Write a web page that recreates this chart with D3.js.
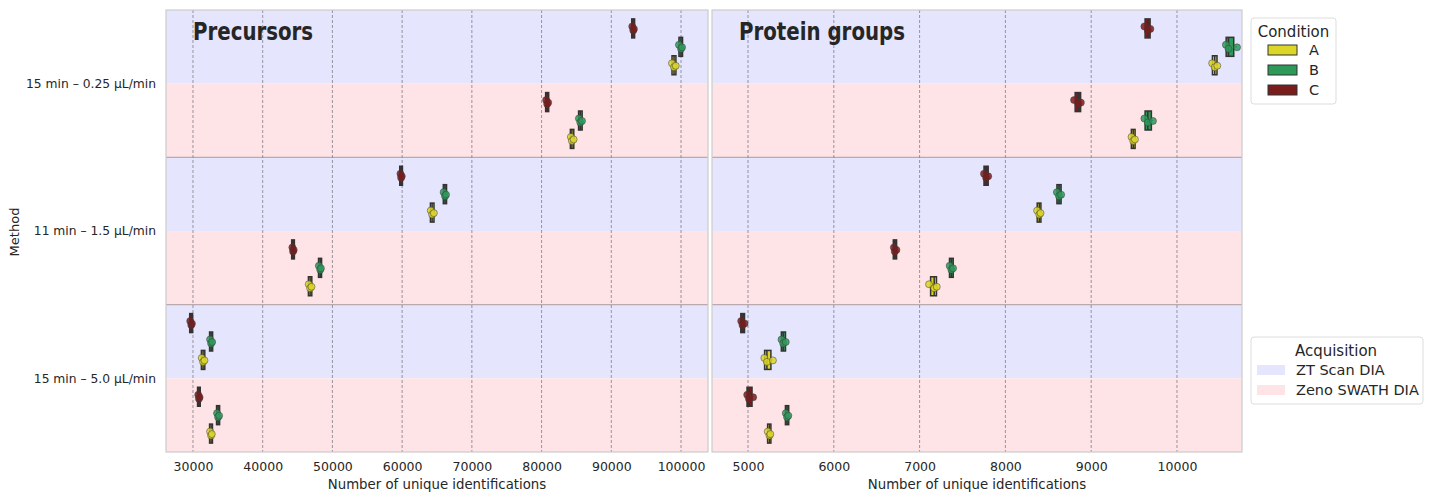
<!DOCTYPE html>
<html>
<head>
<meta charset="utf-8">
<script src="https://cdn.jsdelivr.net/npm/d3@7"></script>
<style>
  body { margin: 0; background: #fff; }
  text { font-family: "DejaVu Sans", sans-serif; fill: #262626; }
</style>
</head>
<body>
<svg width="1429" height="496"></svg>
<script>
'use strict';
// categories
const methods = ['15 min – 0.25 µL/min', '11 min – 1.5 µL/min', '15 min – 5.0 µL/min'];
const acquisitions = ['ZT Scan DIA', 'Zeno SWATH DIA'];
const conditions = ['A', 'B', 'C'];
const rowOrder = ['C', 'B', 'A'];

// replicate values, one triplet per method (same order as methods)
const precZtA = [[98700, 99000, 99250], [64100, 64300, 64550], [31250, 31450, 31650]];
const precZtB = [[99700, 100000, 100150], [65950, 66150, 66300], [32450, 32600, 32750]];
const precZtC = [[93000, 93150, 93250], [59750, 59850, 59950], [29600, 29750, 29850]];
const precZenoA = [[84200, 84350, 84600], [46600, 46800, 47000], [32450, 32600, 32700]];
const precZenoB = [[85350, 85550, 85800], [48050, 48250, 48350], [33450, 33600, 33750]];
const precZenoC = [[80650, 80800, 80950], [44250, 44350, 44450], [30750, 30850, 30950]];

const protZtA = [[10410, 10440, 10470], [8370, 8395, 8410], [5190, 5220, 5290]];
const protZtB = [[10570, 10600, 10700], [8600, 8625, 8650], [5390, 5410, 5440]];
const protZtC = [[9620, 9660, 9690], [7750, 7775, 7800], [4920, 4935, 4960]];
const protZenoA = [[9470, 9490, 9510], [7110, 7170, 7200], [5230, 5250, 5260]];
const protZenoB = [[9620, 9660, 9720], [7350, 7370, 7390], [5440, 5455, 5470]];
const protZenoC = [[8800, 8850, 8880], [6700, 6710, 6730], [4990, 5010, 5060]];

const precTicks = [30000, 40000, 50000, 60000, 70000, 80000, 90000, 100000];
const protTicks = [5000, 6000, 7000, 8000, 9000, 10000];

const colors = { A: '#dcd628', B: '#2e9a5a', C: '#7a1c1c' };
const bgColors = { 'ZT Scan DIA': '#e5e5fd', 'Zeno SWATH DIA': '#fee4e6' };

const svg = d3.select('svg');
const plotTop = 10, plotBottom = 452;

// y scales: method band -> acquisition half -> condition row
const yMethod = d3.scaleBand().domain(methods).range([plotTop, plotBottom]);
const yAcq = d3.scaleBand().domain(acquisitions).range([0, yMethod.bandwidth()]);
const yCond = d3.scalePoint().domain(rowOrder).range([0, yAcq.bandwidth()]).padding(1);

function rows(zt, zeno) {
  const out = [];
  methods.forEach((m, i) => {
    conditions.forEach(c => {
      out.push({ method: m, acq: acquisitions[0], cond: c, values: zt[c][i] });
      out.push({ method: m, acq: acquisitions[1], cond: c, values: zeno[c][i] });
    });
  });
  return out;
}

const panels = [
  {
    title: 'Precursors', x0: 166, x1: 708,
    domain: [26130, 103870], ticks: precTicks,
    data: rows({ A: precZtA, B: precZtB, C: precZtC }, { A: precZenoA, B: precZenoB, C: precZenoC })
  },
  {
    title: 'Protein groups', x0: 712, x1: 1242,
    domain: [4580, 10758], ticks: protTicks,
    data: rows({ A: protZtA, B: protZtB, C: protZtC }, { A: protZenoA, B: protZenoB, C: protZenoC })
  }
];

const jitter = [-2, 2, 0.5];
const boxH = 19;

panels.forEach(p => {
  const x = d3.scaleLinear().domain(p.domain).range([p.x0, p.x1]);
  const g = svg.append('g');

  // background halves
  methods.forEach(m => {
    acquisitions.forEach(a => {
      g.append('rect')
        .attr('x', p.x0).attr('width', p.x1 - p.x0)
        .attr('y', yMethod(m) + yAcq(a)).attr('height', yAcq.bandwidth())
        .attr('fill', bgColors[a]);
    });
  });

  // method separators
  methods.slice(1).forEach(m => {
    g.append('line')
      .attr('x1', p.x0).attr('x2', p.x1)
      .attr('y1', yMethod(m)).attr('y2', yMethod(m))
      .attr('stroke', '#bba9ad').attr('stroke-width', 1.2);
  });

  // grid
  g.selectAll('.grid').data(p.ticks).join('line')
    .attr('x1', d => x(d)).attr('x2', d => x(d))
    .attr('y1', plotTop).attr('y2', plotBottom)
    .attr('stroke', '#7d7d8a').attr('stroke-width', 0.8)
    .attr('stroke-dasharray', '3,2');

  // frame
  g.append('rect')
    .attr('x', p.x0).attr('y', plotTop)
    .attr('width', p.x1 - p.x0).attr('height', plotBottom - plotTop)
    .attr('fill', 'none').attr('stroke', '#cccccc').attr('stroke-width', 1.2);

  // x axis labels
  const axis = d3.axisBottom(x).tickValues(p.ticks).tickFormat(d3.format('d')).tickSize(0).tickPadding(10);
  const ax = g.append('g').attr('transform', `translate(0,${plotBottom})`).call(axis);
  ax.select('.domain').remove();
  ax.selectAll('text').style('font-size', '12.5px').attr('fill', '#262626')
    .style('font-family', '"DejaVu Sans", sans-serif');

  g.append('text')
    .attr('x', (p.x0 + p.x1) / 2).attr('y', 489)
    .attr('text-anchor', 'middle').style('font-size', '13.3px')
    .text('Number of unique identifications');

  // boxes + points
  p.data.forEach(d => {
    const yc = yMethod(d.method) + yAcq(d.acq) + yCond(d.cond);
    const v = d.values.slice().sort(d3.ascending);
    const q1 = d3.quantile(v, 0.25), q3 = d3.quantile(v, 0.75), med = d3.median(v);
    g.append('line')
      .attr('x1', x(v[0])).attr('x2', x(v[v.length - 1]))
      .attr('y1', yc).attr('y2', yc)
      .attr('stroke', '#333').attr('stroke-width', 1.2);
    g.append('rect')
      .attr('x', x(q1) - 1).attr('width', Math.max(x(q3) - x(q1), 0) + 2)
      .attr('y', yc - boxH / 2).attr('height', boxH)
      .attr('fill', colors[d.cond]).attr('stroke', '#333').attr('stroke-width', 1.5);
    g.append('line')
      .attr('x1', x(med)).attr('x2', x(med))
      .attr('y1', yc - boxH / 2).attr('y2', yc + boxH / 2)
      .attr('stroke', '#333').attr('stroke-width', 1.5);
    g.selectAll(null).data(d.values).join('circle')
      .attr('cx', vv => x(vv))
      .attr('cy', (vv, i) => yc + jitter[i])
      .attr('r', 3.5)
      .attr('fill', colors[d.cond]).attr('fill-opacity', 0.85)
      .attr('stroke', '#3a3a3a').attr('stroke-width', 0.5);
  });

  // panel title (condensed bold, slightly stretched vertically)
  g.append('text')
    .attr('transform', `translate(${p.x0 + 27},40) scale(1,1.12)`)
    .style('font-family', '"DejaVu Sans Condensed", "DejaVu Sans", sans-serif')
    .style('font-weight', 'bold').style('font-size', '22px')
    .attr('fill', '#111')
    .text(p.title);
});

// y labels
svg.append('g').selectAll('text').data(methods).join('text')
  .attr('x', 156).attr('y', d => yMethod(d) + yMethod.bandwidth() / 2)
  .attr('dy', '0.35em').attr('text-anchor', 'end')
  .style('font-size', '12.3px')
  .text(d => d);

svg.append('text')
  .attr('transform', 'translate(19,232) rotate(-90)')
  .attr('text-anchor', 'middle').style('font-size', '13px')
  .text('Method');

// Condition legend
const lg1 = svg.append('g').attr('transform', 'translate(1251,18)');
lg1.append('rect').attr('width', 85).attr('height', 86).attr('rx', 3)
  .attr('fill', '#fff').attr('stroke', '#dddddd');
lg1.append('text').attr('x', 42.5).attr('y', 19).attr('text-anchor', 'middle')
  .style('font-size', '15px').text('Condition');
lg1.selectAll('g.item').data(conditions).join('g')
  .attr('transform', (d, i) => `translate(17,${27 + i * 20})`)
  .each(function (d) {
    const it = d3.select(this);
    it.append('rect').attr('width', 29).attr('height', 10)
      .attr('fill', colors[d]).attr('stroke', '#333').attr('stroke-width', 1);
    it.append('text').attr('x', 41).attr('y', 5).attr('dy', '0.35em')
      .style('font-size', '14.5px').text(d);
  });

// Acquisition legend
const lg2 = svg.append('g').attr('transform', 'translate(1251,337)');
lg2.append('rect').attr('width', 172).attr('height', 67).attr('rx', 3)
  .attr('fill', '#fff').attr('stroke', '#dddddd');
lg2.append('text').attr('x', 85).attr('y', 19).attr('text-anchor', 'middle')
  .style('font-size', '15px').text('Acquisition');
lg2.selectAll('g.item').data(acquisitions).join('g')
  .attr('transform', (d, i) => `translate(6,${28 + i * 20})`)
  .each(function (d) {
    const it = d3.select(this);
    it.append('rect').attr('width', 28).attr('height', 10).attr('fill', bgColors[d]);
    it.append('text').attr('x', 39).attr('y', 5).attr('dy', '0.35em')
      .style('font-size', '14.5px').text(d);
  });
</script>
</body>
</html>
